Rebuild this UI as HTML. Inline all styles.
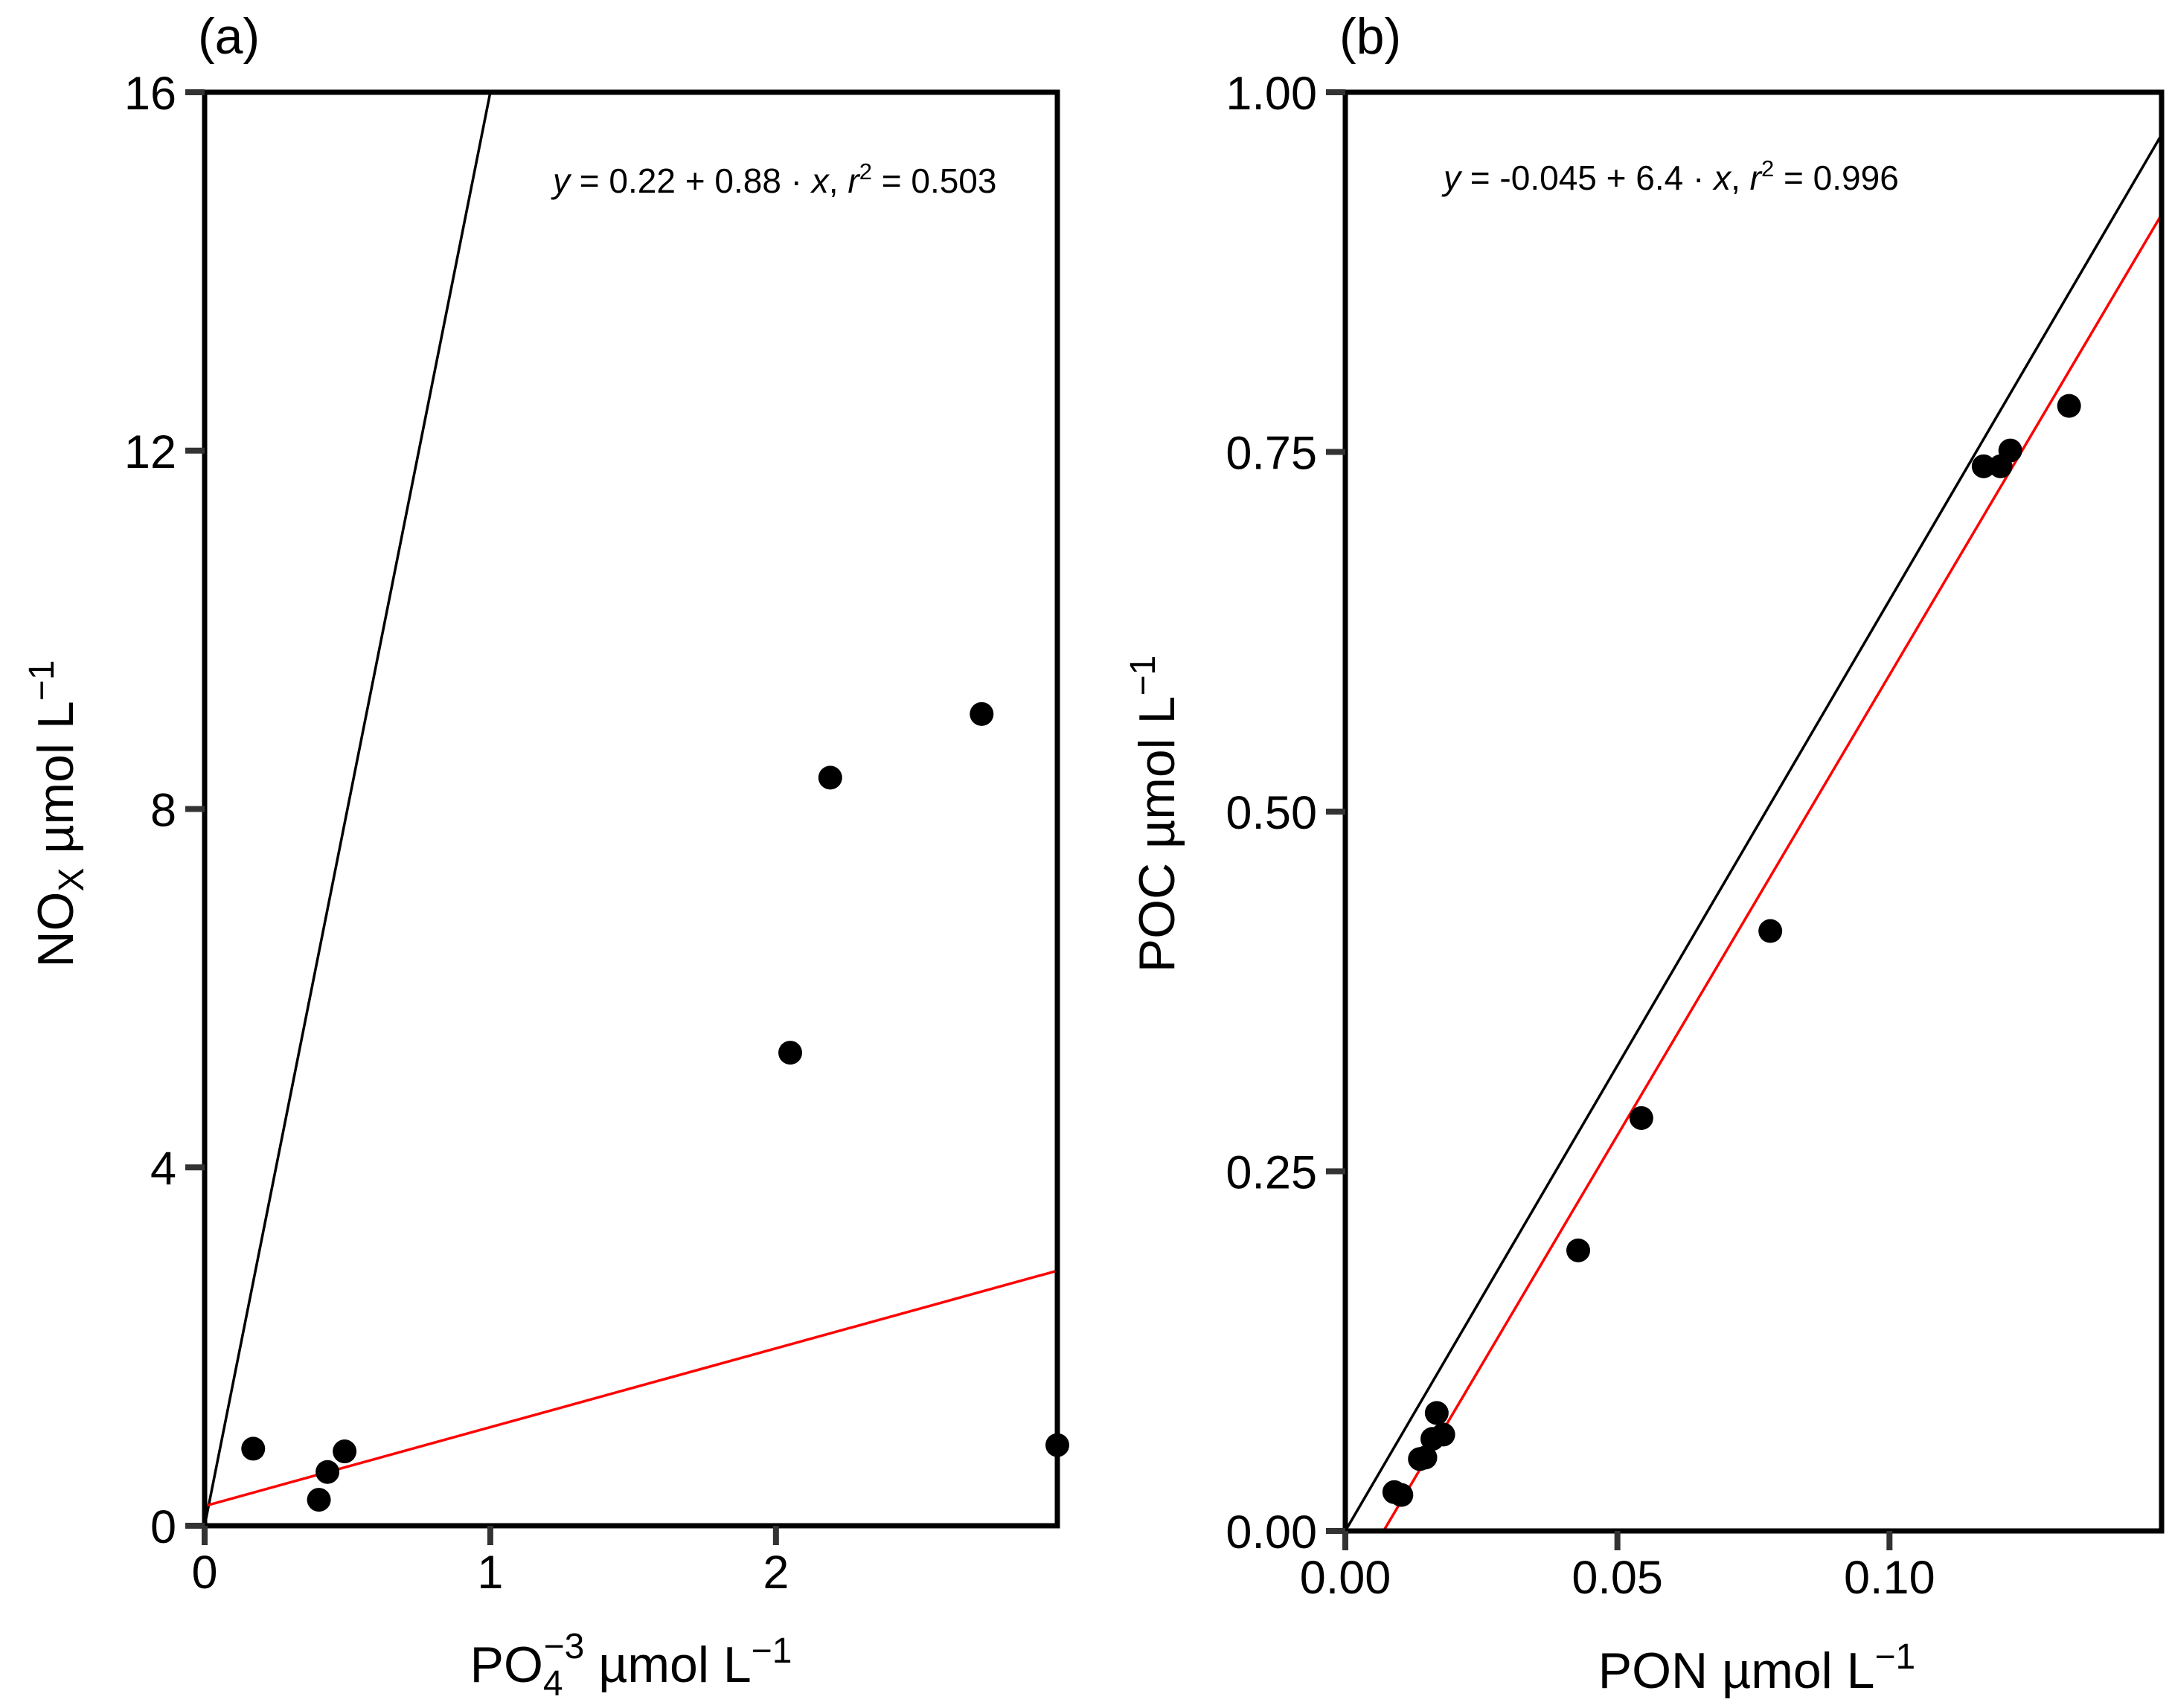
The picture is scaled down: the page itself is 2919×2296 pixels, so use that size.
<!DOCTYPE html>
<html><head><meta charset="utf-8"><style>
body{margin:0;background:#fff}
svg{display:block;font-family:"Liberation Sans",sans-serif}
</style></head><body>
<svg id="chart" width="2919" height="2296" viewBox="0 0 2919 2296" xmlns="http://www.w3.org/2000/svg">
<g id="pa"></g>
<g id="pb"></g>
</svg>
<script>
const aX = [0.17,0.43,0.40,0.49,2.05,2.19,2.72,2.985];
const aY = [0.86,0.60,0.29,0.83,5.28,8.35,9.06,0.90];
const aXTicks = [0,1,2];
const aYTicks = [0,4,8,12,16];
const aRefSlope = 16;
const aFit = [0.22,0.88];
const bX = [0.009,0.0103,0.0137,0.0147,0.016,0.0168,0.018,0.0428,0.0544,0.0781,0.1173,0.1204,0.1222,0.133];
const bY = [0.027,0.025,0.050,0.051,0.064,0.082,0.067,0.195,0.287,0.417,0.740,0.740,0.751,0.782];
const bXTicks = [0,0.05,0.10];
const bXTickLabels = ["0.00","0.05","0.10"];
const bYTicks = [0,0.25,0.5,0.75,1];
const bYTickLabels = ["0.00","0.25","0.50","0.75","1.00"];
const bRefSlope = 6.47;
const bFit = [-0.045,6.4];
const NS="http://www.w3.org/2000/svg";
function mk(p,t,a,txt){const e=document.createElementNS(NS,t);for(const k in a)e.setAttribute(k,a[k]);if(txt!==undefined)e.textContent=txt;p.appendChild(e);return e;}
function panel(g,o){
  const sx=v=>o.L+(v-o.x0)/(o.x1-o.x0)*(o.R-o.L);
  const sy=v=>o.B-(v-o.y0)/(o.y1-o.y0)*(o.B-o.T);
  const clip=mk(g,'clipPath',{id:o.id+'c'});mk(clip,'rect',{x:o.L,y:o.T,width:o.R-o.L,height:o.B-o.T});
  const lines=mk(g,'g',{'clip-path':'url(#'+o.id+'c)'});
  
  let l=mk(lines,'line',{x1:sx(o.x0),y1:sy(0),x2:sx(o.x1),y2:sy(o.ref*o.x1),stroke:'#000','stroke-width':3.5});
  
  l=mk(lines,'line',{x1:sx(o.x0),y1:sy(o.fit[0]+o.fit[1]*o.x0),x2:sx(o.x1),y2:sy(o.fit[0]+o.fit[1]*o.x1),stroke:'#f00','stroke-width':3.5});
  
  const pts=mk(g,'g',{});
  
  o.xs.forEach((v,i)=>{const c=mk(pts,'circle',{cx:sx(v),cy:sy(o.ys[i]),r:16,fill:'#000'});
    });
  const fr=mk(g,'rect',{x:o.L,y:o.T,width:o.R-o.L,height:o.B-o.T,fill:'none',stroke:'#000','stroke-width':7});
  
  o.xt.forEach((v,i)=>{mk(g,'line',{x1:sx(v),y1:o.B,x2:sx(v),y2:o.B+26,stroke:'#333','stroke-width':8});
    const t=mk(g,'text',{x:sx(v),y:o.B+84,'font-size':63,'text-anchor':'middle'},o.xl[i]);
    });
  o.yt.forEach((v,i)=>{mk(g,'line',{x1:o.L-26,y1:sy(v),x2:o.L,y2:sy(v),stroke:'#333','stroke-width':8});
    const t=mk(g,'text',{x:o.L-38,y:sy(v)+23,'font-size':63,'text-anchor':'end'},o.yl[i]);
    });
}
panel(document.getElementById('pa'),{id:'a',L:275,R:1421,T:124,B:2051,x0:0,x1:2.985,y0:0,y1:16,xs:aX,ys:aY,ref:aRefSlope,fit:aFit,xt:aXTicks,xl:aXTicks.map(String),yt:aYTicks,yl:aYTicks.map(String)});
panel(document.getElementById('pb'),{id:'b',L:1808,R:2905,T:124,B:2058,x0:0,x1:0.15,y0:0,y1:1,xs:bX,ys:bY,ref:bRefSlope,fit:bFit,xt:bXTicks,xl:bXTickLabels,yt:bYTicks,yl:bYTickLabels});
</script>
<svg width="2919" height="2296" style="position:absolute;left:0;top:0" xmlns="http://www.w3.org/2000/svg">
<text x="266" y="72" font-size="68">(a)</text>
<text x="1800" y="72" font-size="68">(b)</text>
<text x="743" y="259" font-size="46"><tspan font-style="italic">y</tspan> = 0.22 + 0.88 · <tspan font-style="italic">x</tspan>,  <tspan font-style="italic">r</tspan><tspan dy="-18" font-size="31">2</tspan><tspan dy="18"> = 0.503</tspan></text>
<text x="1940" y="255" font-size="46"><tspan font-style="italic">y</tspan> = -0.045 + 6.4 · <tspan font-style="italic">x</tspan>,  <tspan font-style="italic">r</tspan><tspan dy="-18" font-size="31">2</tspan><tspan dy="18"> = 0.996</tspan></text>
<text x="848" y="2261" font-size="68" text-anchor="middle">PO<tspan dy="18" font-size="48">4</tspan><tspan dy="-50" dx="-26" font-size="48">−3</tspan><tspan dy="32"> µmol L</tspan><tspan dy="-26" font-size="48">−1</tspan></text>
<text x="2361" y="2269" font-size="68" text-anchor="middle">PON µmol L<tspan dy="-26" font-size="48">−1</tspan></text>
<text transform="translate(98,1094) rotate(-90)" font-size="68" text-anchor="middle">NO<tspan dy="14" font-size="48">X</tspan><tspan dy="-14"> µmol L</tspan><tspan dy="-26" font-size="48">−1</tspan></text>
<text transform="translate(1578,1094) rotate(-90)" font-size="68" text-anchor="middle">POC µmol L<tspan dy="-26" font-size="48">−1</tspan></text>
</svg>
</body></html>
